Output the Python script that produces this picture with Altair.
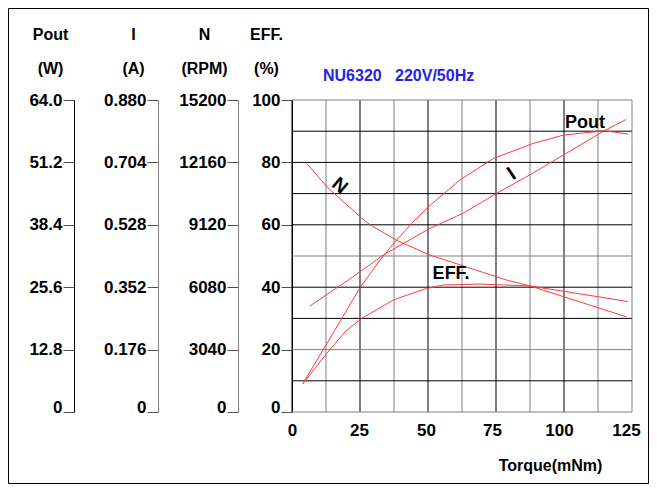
import altair as alt
import pandas as pd

FONT = "Liberation Sans, Arial, sans-serif"
RED = "#ff3b3b"
BLUE = "#2424e8"
GRAY = "#808080"

# ---- grid / tick values ----
grid_torque = [0, 12.5, 25, 37.5, 50, 62.5, 75, 87.5, 100, 112.5, 125]
grid_eff = [0, 10, 20, 30, 40, 50, 60, 70, 80, 90, 100]
torque_ticks = [0, 25, 50, 75, 100, 125]
pout_ticks = [0, 12.8, 25.6, 38.4, 51.2, 64.0]
i_ticks = [0, 0.176, 0.352, 0.528, 0.704, 0.880]
n_ticks = [0, 3040, 6080, 9120, 12160, 15200]
eff_ticks = [0, 20, 40, 60, 80, 100]

# ---- curves ----
pout_torque = [3.9, 12.8, 25, 32.4, 37.9, 44, 50.1, 61.8, 74, 88.7, 99.8, 115, 123.6]
pout_w = [5.76, 14.0, 25.5, 31.2, 34.9, 38.7, 42.1, 47.6, 52.0, 55.1, 56.8, 57.7, 57.0]

i_torque = [6.6, 20.7, 33.6, 50.7, 63, 75.3, 87.5, 99.8, 115, 122.8]
i_amp = [0.299, 0.372, 0.443, 0.518, 0.561, 0.617, 0.669, 0.725, 0.794, 0.825]

n_torque = [5.6, 12.8, 25, 28.7, 38.5, 50.7, 78.9, 87.5, 123.6]
n_rpm = [12084, 10974, 9515, 9120, 8360, 7646, 6430, 6141, 5381]

eff_torque = [3.9, 12.8, 19.5, 25.4, 37.3, 43.4, 49.5, 55.6, 69, 87.5, 99.7, 123]
eff_pct = [9.0, 18.8, 25.7, 29.9, 35.9, 37.8, 39.6, 40.7, 41.0, 40.4, 37.0, 30.5]

# ---- curve labels ----
label_text = ["Pout", "I", "N", "EFF."]
label_torque = [107.7, 80.8, 17.6, 58.5]
label_eff = [91.0, 76.3, 72.6, 42.6]

W, H = 340, 312
FS = 16
LFS = 17
xscale = alt.Scale(domain=[0, 125], nice=False, zero=False)


def left_axis(vals, title, offset, title_x, domain_color, label_expr):
    return alt.Axis(
        orient="left", offset=offset, values=vals, labelExpr=label_expr,
        grid=False, tickSize=11, tickColor="#505050", tickWidth=1,
        domainColor=domain_color, domainWidth=1,
        labelFont=FONT, labelFontSize=LFS, labelFontWeight="bold",
        labelColor="black", labelPadding=1, labelOverlap=False, labelFlush=False,
        labelBaseline={"condition": {"test": "datum.value == 0", "value": "alphabetic"},
                       "value": "middle"},
        title=title, titleFont=FONT, titleFontSize=FS, titleFontWeight="bold",
        titleColor="black", titleAngle=0, titleAlign="center",
        titleBaseline="alphabetic", titleX=title_x, titleY=-61, titleLineHeight=34,
    )


grid_v = alt.Chart(pd.DataFrame({"torque": grid_torque})).mark_rule(strokeWidth=1).encode(
    x=alt.X("torque:Q", scale=xscale, axis=alt.Axis(
        values=torque_ticks, ticks=False, tickSize=0, domain=False, grid=False,
        labelFlush=False, labelOverlap=False,
        labelFont=FONT, labelFontSize=LFS, labelFontWeight="bold", labelColor="black",
        labelPadding=10,
        labelOffset={"condition": [
            {"test": "datum.value == 125", "value": -6},
            {"test": "datum.value == 100", "value": -5},
            {"test": "datum.value == 75", "value": -4},
            {"test": "datum.value == 50", "value": -2},
            {"test": "datum.value == 25", "value": -1}], "value": 0},
        title="Torque(mNm)", titleFont=FONT, titleFontSize=FS, titleFontWeight="bold",
        titleColor="black", titleAlign="center", titleBaseline="alphabetic",
        titleX=258, titleY=58)),
    color=alt.condition("datum.torque % 25 != 0 || datum.torque == 125",
                        alt.value(GRAY), alt.value("black")),
)

grid_h = alt.Chart(pd.DataFrame({"eff": grid_eff})).mark_rule(strokeWidth=1).encode(
    y=alt.Y("eff:Q", scale=alt.Scale(domain=[0, 100], nice=False), axis=None),
    color=alt.condition("datum.eff == 0 || datum.eff == 20 || datum.eff == 50 || datum.eff == 100",
                        alt.value(GRAY), alt.value("black")),
)


def curve(tq, vals, domain, axis):
    df = pd.DataFrame({"torque": tq, "v": vals})
    return alt.Chart(df).mark_line(color=RED, strokeWidth=1).encode(
        x=alt.X("torque:Q", scale=xscale),
        y=alt.Y("v:Q", scale=alt.Scale(domain=domain, nice=False, zero=True), axis=axis),
    )


pout_line = curve(pout_torque, pout_w, [0, 64],
                  left_axis(pout_ticks, ["Pout", "(W)"], 218, -24, "black",
                            "datum.value == 0 ? '0' : format(datum.value, '.1f')"))
i_line = curve(i_torque, i_amp, [0, 0.88],
               left_axis(i_ticks, ["I", "(A)"], 134, -25, GRAY,
                         "datum.value == 0 ? '0' : format(datum.value, '.3f')"))
n_line = curve(n_torque, n_rpm, [0, 15200],
               left_axis(n_ticks, ["N", "(RPM)"], 54, -34, GRAY,
                         "format(datum.value, 'd')"))
eff_line = curve(eff_torque, eff_pct, [0, 100],
                 left_axis(eff_ticks, ["EFF.", "(%)"], 0, -26, "black",
                           "format(datum.value, 'd')"))

lab_df = pd.DataFrame({"label": label_text, "torque": label_torque, "eff": label_eff})


def curve_label(name, angle, size, baseline):
    return alt.Chart(lab_df).transform_filter(alt.datum.label == name).mark_text(
        font=FONT, fontSize=size, fontWeight="bold", color="black",
        angle=angle, align="center", baseline=baseline,
    ).encode(
        x=alt.X("torque:Q", scale=xscale),
        y=alt.Y("eff:Q", scale=alt.Scale(domain=[0, 100], nice=False), axis=None),
        text="label:N",
    )


lbl_pout = curve_label("Pout", 0, 18, "alphabetic")
lbl_i = curve_label("I", 326, 20, "middle")
lbl_n = curve_label("N", 40, 19, "middle")
lbl_eff = curve_label("EFF.", 0, 18, "alphabetic")

title_txt = alt.Chart(alt.Data(values=[{}])).mark_text(
    text="NU6320\u00a0\u00a0\u00a0220V/50Hz", align="left", baseline="alphabetic",
    font=FONT, fontSize=FS, fontWeight="bold", color=BLUE,
).encode(x=alt.value(31), y=alt.value(-19))

frame = alt.Chart(alt.Data(values=[{}])).mark_rect(
    fill="transparent", stroke="black", strokeWidth=1,
).encode(x=alt.value(-283.5), x2=alt.value(356.5), y=alt.value(-91.5), y2=alt.value(383.5))

chart = alt.layer(
    grid_v, grid_h, pout_line, i_line, n_line, eff_line,
    lbl_pout, lbl_i, lbl_n, lbl_eff, title_txt, frame,
).resolve_scale(y="independent", x="shared").properties(
    width=W, height=H,
    padding={"left": 284, "top": 92, "right": 17, "bottom": 72},
    autosize=alt.AutoSizeParams(type="none"),
    background="white",
).configure_view(stroke=None)

chart.save("out.html", embed_options={"renderer": "svg", "actions": False})
